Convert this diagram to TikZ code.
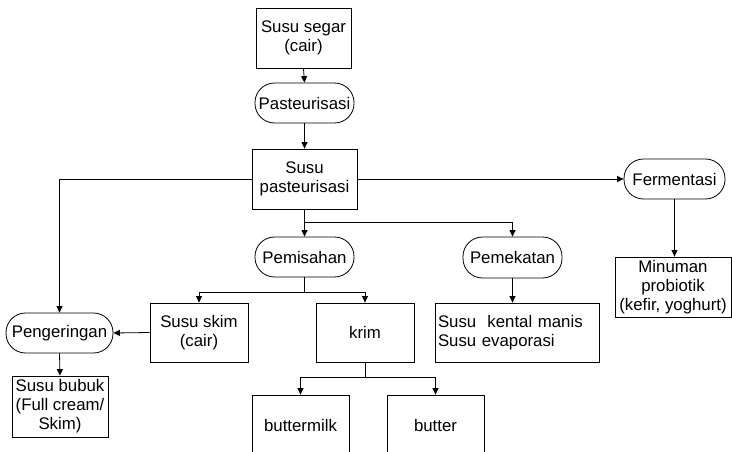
\documentclass[tikz,border=0pt]{standalone}
\usepackage{fontspec}
\setmainfont{Liberation Sans}
\usetikzlibrary{arrows.meta}
\begin{document}
\begin{tikzpicture}[x=1pt,y=-1pt,
  every node/.style={font=\fontsize{16.8}{19}\selectfont, inner sep=0pt, align=center},
  box/.style={draw, line width=0.8pt, rectangle},
  proc/.style={draw, line width=0.8pt, rectangle, rounded corners=19.5pt},
  conn/.style={line width=0.8pt, -{Triangle[length=6.5pt,width=6pt]}},
  plain/.style={line width=0.8pt}]
\useasboundingbox (0,0) rectangle (732,452);
\node[box, minimum width=95pt, minimum height=60pt] (segar) at (303.5,38) {Susu segar\\(cair)};
\node[proc, minimum width=99pt, minimum height=40pt] (past) at (304.5,103) {Pasteurisasi};
\node[box, minimum width=105pt, minimum height=60pt] (spast) at (304.5,179) {Susu\\pasteurisasi};
\node[proc, minimum width=101pt, minimum height=40pt] (ferm) at (674.5,179) {Fermentasi};
\node[proc, minimum width=99pt, minimum height=40pt] (pemis) at (304.5,257) {Pemisahan};
\node[proc, minimum width=99pt, minimum height=41pt] (pemek) at (512.5,257.5) {Pemekatan};
\node[box, minimum width=116pt, minimum height=60pt] (minum) at (673,287) {Minuman\\probiotik\\(kefir, yoghurt)};
\node[proc, minimum width=107pt, minimum height=40pt] (peng) at (59.5,333) {Pengeringan};
\node[box, minimum width=98pt, minimum height=59pt] (skim) at (199,332.5) {Susu skim\\(cair)};
\node[box, minimum width=98pt, minimum height=59pt] (krim) at (365,332.5) {krim};
\node[box, minimum width=164pt, minimum height=59pt, text width=158pt, align=left, inner xsep=3pt] (kental) at (517,332.5) {Susu\ \ kental manis\\Susu evaporasi};
\node[box, minimum width=96pt, minimum height=61pt] (bubuk) at (60,406.5) {Susu bubuk\\(Full cream/\\Skim)};
\node[box, minimum width=97pt, minimum height=60pt] (bmilk) at (300.5,425) {buttermilk};
\node[box, minimum width=97pt, minimum height=60pt] (butter) at (435.5,425) {butter};
\coordinate (j1) at (304.5,222);
\coordinate (j2) at (304.5,292);
\coordinate (j3) at (365,377);
\draw[conn] (segar.south) -- (past.north);
\draw[conn] (past.south) -- (spast.north);
\draw[conn] (spast.west) -| (peng.north);
\draw[conn] (spast.east) -- (ferm.west);
\draw[conn] (spast.south) -- (pemis.north);
\draw[conn] (j1) -| (pemek.north);
\draw[plain] (pemis.south) -- (j2);
\draw[conn] (j2) -| (skim.north);
\draw[conn] (j2) -| (krim.north);
\draw[plain] (krim.south) -- (j3);
\draw[conn] (j3) -| (bmilk.north);
\draw[conn] (j3) -| (butter.north);
\draw[conn] (skim.west) -- (peng.east);
\draw[conn] (peng.south) -- (bubuk.north);
\draw[conn] (pemek.south) -- (pemek.south |- kental.north);
\draw[conn] (ferm.south) -- (ferm.south |- minum.north);
\end{tikzpicture}
\end{document}
